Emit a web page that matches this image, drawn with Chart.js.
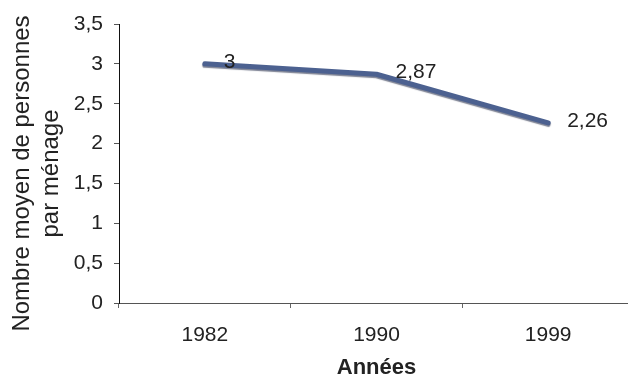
<!DOCTYPE html>
<html lang="fr">
<head>
<meta charset="utf-8">
<title>Nombre moyen de personnes par ménage</title>
<script src="https://cdn.jsdelivr.net/npm/chart.js@4.4.1/dist/chart.umd.min.js"></script>
<style>
  html, body { margin: 0; padding: 0; background: #fff; overflow: hidden; }
  #wrap { width: 628px; height: 385px; overflow: hidden; }
  canvas { display: block; }
</style>
</head>
<body>
<div id="wrap"><canvas id="chart" width="634" height="385"></canvas></div>
<script>
// Recensements
const years = ['1982', '1990', '1999'];
// Nombre moyen de personnes par ménage
const householdSize = [3, 2.87, 2.26];
// Échelle verticale
const yMin = 0;
const yMax = 3.5;
const yStep = 0.5;
// Titre de l'axe vertical, sur deux lignes
const yTitleLines = ['Nombre moyen de personnes', 'par ménage'];

const FONT = '"Liberation Sans", Arial, sans-serif';
const fr = v => String(v).replace('.', ',');

// Valeurs écrites à droite de chaque point
const valueLabels = {
  id: 'valueLabels',
  afterDatasetsDraw(chart) {
    const ctx = chart.ctx;
    const meta = chart.getDatasetMeta(0);
    ctx.save();
    ctx.font = '21px ' + FONT;
    ctx.fillStyle = '#222';
    ctx.textAlign = 'left';
    ctx.textBaseline = 'middle';
    meta.data.forEach((pt, i) => {
      ctx.fillText(fr(householdSize[i]), pt.x + 19, pt.y - 2);
    });
    ctx.restore();
  }
};

// Titre vertical, légèrement abaissé par rapport au centre de l'axe
const yAxisTitle = {
  id: 'yAxisTitle',
  afterDraw(chart) {
    const ctx = chart.ctx;
    const area = chart.chartArea;
    const cy = (area.top + area.bottom) / 2 + 10;
    ctx.save();
    ctx.font = '24px ' + FONT;
    ctx.fillStyle = '#222';
    ctx.textAlign = 'center';
    ctx.textBaseline = 'middle';
    const xs = [22, 51];
    yTitleLines.forEach((line, i) => {
      ctx.save();
      ctx.translate(xs[i], cy);
      ctx.rotate(-Math.PI / 2);
      ctx.fillText(line, 0, 0);
      ctx.restore();
    });
    ctx.restore();
  }
};

// Ombre portée sous la courbe
const lineShadow = {
  id: 'lineShadow',
  beforeDatasetDraw(chart) {
    const ctx = chart.ctx;
    ctx.save();
    ctx.shadowColor = 'rgba(20, 30, 60, 0.55)';
    ctx.shadowOffsetX = 0;
    ctx.shadowOffsetY = 1.5;
    ctx.shadowBlur = 1;
  },
  afterDatasetDraw(chart) {
    chart.ctx.restore();
  }
};

new Chart(document.getElementById('chart'), {
  type: 'line',
  data: {
    labels: years,
    datasets: [{
      data: householdSize,
      borderColor: '#4c6190',
      borderWidth: 5,
      borderCapStyle: 'round',
      borderJoinStyle: 'round',
      pointRadius: 0,
      pointHoverRadius: 0,
      tension: 0,
      fill: false
    }]
  },
  options: {
    responsive: false,
    animation: false,
    events: [],
    layout: { padding: { top: 24, left: 0, right: 0, bottom: 0 } },
    plugins: {
      legend: { display: false },
      tooltip: { enabled: false },
      title: { display: false }
    },
    scales: {
      x: {
        offset: true,
        grid: { offset: true, drawOnChartArea: false, drawTicks: true, tickLength: 5, color: '#666' },
        border: { display: true, color: '#555', width: 1 },
        ticks: {
          color: '#222',
          padding: 15,
          font: { family: FONT, size: 21 }
        },
        title: {
          display: true,
          text: 'Années',
          color: '#222',
          padding: { top: 0, bottom: 4 },
          font: { family: FONT, size: 22, weight: 'bold' }
        },
        afterFit(scale) { scale.height = 82; }
      },
      y: {
        min: yMin,
        max: yMax,
        grid: { drawOnChartArea: false, drawTicks: true, tickLength: 5, color: '#555' },
        border: { display: true, color: '#111', width: 1 },
        ticks: {
          stepSize: yStep,
          color: '#222',
          padding: 11,
          font: { family: FONT, size: 21 },
          callback: v => fr(v)
        },
        title: { display: false },
        afterFit(scale) { scale.width = 119; }
      }
    }
  },
  plugins: [lineShadow, valueLabels, yAxisTitle]
});
</script>
</body>
</html>
